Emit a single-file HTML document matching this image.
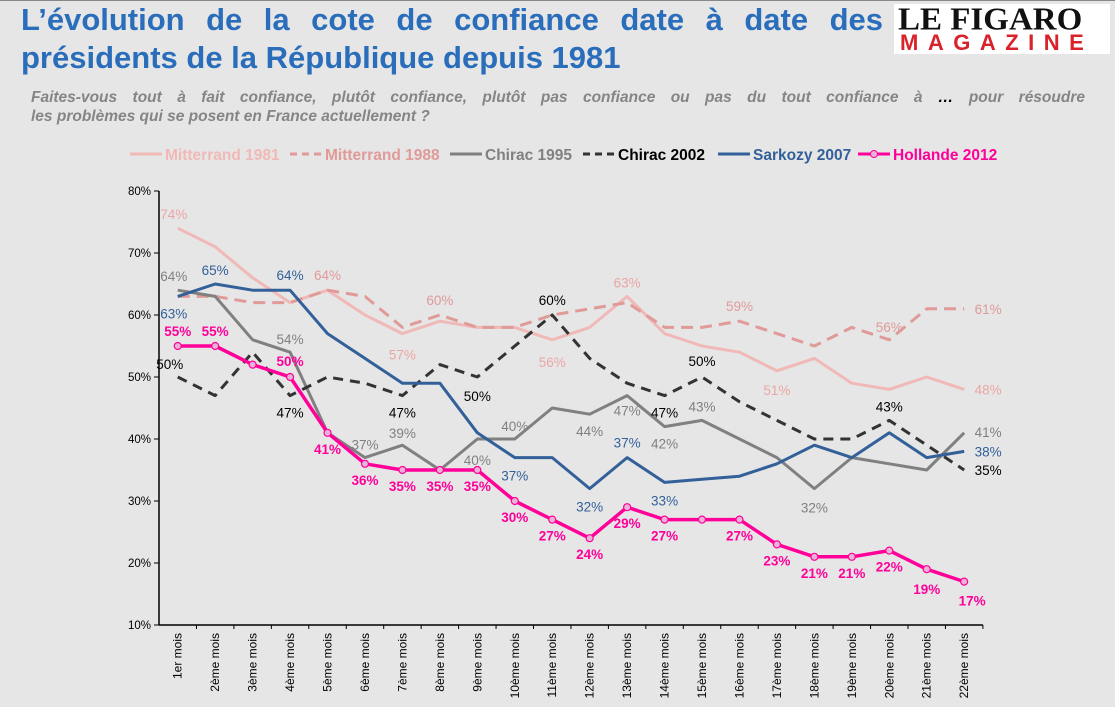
<!DOCTYPE html>
<html><head><meta charset="utf-8">
<style>
html,body{margin:0;padding:0;}
body{width:1115px;height:706px;background:#e6e6e6;font-family:"Liberation Sans",sans-serif;position:relative;overflow:hidden;border-top:1px solid #888;box-sizing:border-box;}
.t{position:absolute;left:21px;font-weight:bold;color:#2a6ebb;font-size:31px;line-height:38px;}
.sub{position:absolute;left:31px;width:1054px;font-weight:bold;font-style:italic;color:#858585;font-size:15.5px;line-height:19px;}
.logo{position:absolute;left:894px;top:3px;width:216px;height:50px;background:#fff;}
</style></head><body>
<div class="t" style="top:0px;width:862px;text-align:justify;text-align-last:justify;">L’évolution de la cote de confiance date à date des</div>
<div class="t" style="top:38px;">présidents de la République depuis 1981</div>
<div class="sub" style="top:87px;"><div style="text-align:justify;text-align-last:justify;">Faites-vous tout à fait confiance, plutôt confiance, plutôt pas confiance ou pas du tout confiance à <span style="color:#000">…</span> pour résoudre</div><div>les problèmes qui se posent en France actuellement ?</div></div>
<div class="logo">
<div style="position:absolute;left:4px;top:0px;width:208px;font-family:'Liberation Serif',serif;font-weight:bold;font-size:33px;line-height:32px;color:#111;transform:scaleY(0.95);white-space:nowrap;">LE FIGARO</div>
<div style="position:absolute;left:6px;top:28px;font-weight:bold;font-size:22px;line-height:22px;color:#d9222a;letter-spacing:9.5px;white-space:nowrap;">MAGAZINE</div>
</div>
<svg id="chart" width="1115" height="706" style="position:absolute;left:0;top:0"></svg>
<script>
const categories=["1er mois","2ème mois","3ème mois","4ème mois","5ème mois","6ème mois","7ème mois","8ème mois","9ème mois","10ème mois","11ème mois","12ème mois","13ème mois","14ème mois","15ème mois","16ème mois","17ème mois","18ème mois","19ème mois","20ème mois","21ème mois","22ème mois"];
const yTicks=[10,20,30,40,50,60,70,80];
const seriesNames=["Mitterrand 1981","Mitterrand 1988","Chirac 1995","Chirac 2002","Sarkozy 2007","Hollande 2012"];
const mitterrand1981=[74,71,66,62,64,60,57,59,58,58,56,58,63,57,55,54,51,53,49,48,50,48];
const mitterrand1988=[63,63,62,62,64,63,58,60,58,58,60,61,62,58,58,59,57,55,58,56,61,61];
const chirac1995=[64,63,56,54,41,37,39,35,40,40,45,44,47,42,43,40,37,32,37,36,35,41];
const chirac2002=[50,47,54,47,50,49,47,52,50,55,60,53,49,47,50,46,43,40,40,43,39,35];
const sarkozy2007=[63,65,64,64,57,53,49,49,41,37,37,32,37,33,33.5,34,36,39,37,41,37,38];
const hollande2012=[55,55,52,50,41,36,35,35,35,30,27,24,29,27,27,27,23,21,21,22,19,17];
// labelled point indices per series
const lblM81=[0,6,10,12,16,21];
const lblM88=[4,7,15,19,21];
const lblC95=[0,3,5,6,8,9,11,12,13,14,17,21];
const lblC02=[0,3,6,8,10,13,14,19,21];
const lblS07=[0,1,3,9,11,12,13,21];
const lblH12=[0,1,3,4,5,6,7,8,9,10,11,12,13,15,16,17,18,19,20,21];

const NS="http://www.w3.org/2000/svg";
const svg=document.getElementById('chart');
const X0=159,STEP=37.45,Y10=624,PX=6.2;
const xs=i=>X0+STEP*(i+0.5);
const ys=v=>Y10-(v-10)*PX;
function mk(tag,attrs,parent){const e=document.createElementNS(NS,tag);for(const k in attrs)e.setAttribute(k,attrs[k]);(parent||svg).appendChild(e);return e;}

let ax=mk('line',{x1:X0,y1:ys(80),x2:X0,y2:Y10,stroke:'#000','stroke-width':1.5});


let bx=mk('line',{x1:X0,y1:Y10,x2:X0+STEP*categories.length,y2:Y10,stroke:'#000','stroke-width':1.5});


yTicks.forEach(v=>{
  mk('line',{x1:X0-5,y1:ys(v),x2:X0,y2:ys(v),stroke:'#000'});
  const t=mk('text',{x:X0-8,y:ys(v)+4,'text-anchor':'end','font-size':11.5,fill:'#000'});
  t.textContent=v+'%';
  
  
});
categories.forEach((c,i)=>{
  mk('line',{x1:X0+STEP*(i+1),y1:Y10,x2:X0+STEP*(i+1),y2:Y10+4,stroke:'#000'});
  const t=mk('text',{transform:`translate(${xs(i)+4},${Y10+8}) rotate(-90)`,'text-anchor':'end','font-size':12,fill:'#000'});
  t.textContent=c;
  
  
});

const styles=[
 {data:mitterrand1981,color:'#f0b9b7',dash:null,lbl:lblM81,bold:false,name:'mitterrand-1981'},
 {data:mitterrand1988,color:'#e09a98',dash:'12,7',lbl:lblM88,bold:false,name:'mitterrand-1988'},
 {data:chirac1995,color:'#808080',dash:null,lbl:lblC95,bold:false,name:'chirac-1995'},
 {data:chirac2002,color:'#333333',dash:'10,7',lbl:lblC02,bold:false,name:'chirac-2002'},
 {data:sarkozy2007,color:'#336099',dash:null,lbl:lblS07,bold:false,name:'sarkozy-2007'},
 {data:hollande2012,color:'#ff0099',dash:null,lbl:lblH12,bold:true,name:'hollande-2012'}
];
const labelColors=['#eba6a4','#e09a98','#808080','#000','#336099','#ff0099'];
const off={
 0:{0:[-4,-9],6:[0,26],10:[0,27],12:[0,-9],16:[0,24],21:[24,5]},
 1:{4:[0,-10],7:[0,-10],15:[0,-10],19:[0,-8],21:[24,5]},
 2:{0:[-4,-9],3:[0,-8],5:[0,-8],6:[0,-7],8:[0,26],9:[0,-8],11:[0,22],12:[0,20],13:[0,22],14:[0,-9],17:[0,24],21:[24,4]},
 3:{0:[-8,-8],3:[0,22],6:[0,22],8:[0,24],10:[0,-10],13:[0,22],14:[0,-11],19:[0,-9],21:[24,5]},
 4:{0:[-4,22],1:[0,-9],3:[0,-10],9:[0,23],11:[0,23],12:[0,-10],13:[0,23],21:[24,5]},
 5:{}
};
lblH12.forEach(i=>{off[5][i]=[0,21];});
off[5][0]=[0,-10];off[5][1]=[0,-10];off[5][3]=[0,-11];off[5][21]=[8,24];off[5][20]=[0,25];

styles.forEach((s,si)=>{
  const pts=s.data.map((v,i)=>xs(i)+','+ys(v)).join(' ');
  const pl=mk('polyline',{points:pts,fill:'none',stroke:s.color,'stroke-width':si==5?3.5:3,'stroke-linejoin':'round'});
  if(s.dash)pl.setAttribute('stroke-dasharray',s.dash);
  
  
  if(si==5){
    s.data.forEach((v,i)=>{
      const c=mk('circle',{cx:xs(i),cy:ys(v),r:3.5,fill:'#e8b3d6',stroke:'#ff0099','stroke-width':1.2});
      
      
    });
  }
});
styles.forEach((s,si)=>{
  s.lbl.forEach(i=>{
    const o=off[si][i]||[0,-9];
    const t=mk('text',{x:xs(i)+o[0],y:ys(s.data[i])+o[1],'text-anchor':'middle','font-size':13.5,fill:labelColors[si],'font-weight':s.bold?'bold':'normal'});
    t.textContent=Math.round(s.data[i])+'%';
    
    
  });
});

const legX=[130,290,450,583,718,858];
styles.forEach((s,si)=>{
  const x=legX[si],y=153;
  const ln=mk('line',{x1:x,y1:y,x2:x+32,y2:y,stroke:s.color,'stroke-width':3});
  if(s.dash)ln.setAttribute('stroke-dasharray','7,5');
  
  
  if(si==5){const c=mk('circle',{cx:x+16,cy:y,r:3.5,fill:'#e8b3d6',stroke:'#ff0099'});}
  const t=mk('text',{x:x+35,y:y+6,'font-size':15.5,'font-weight':'bold',fill:si==0?'#f0b9b7':(si==3?'#000':s.color)});
  t.textContent=seriesNames[si];
  
  
});
</script>
</body></html>
